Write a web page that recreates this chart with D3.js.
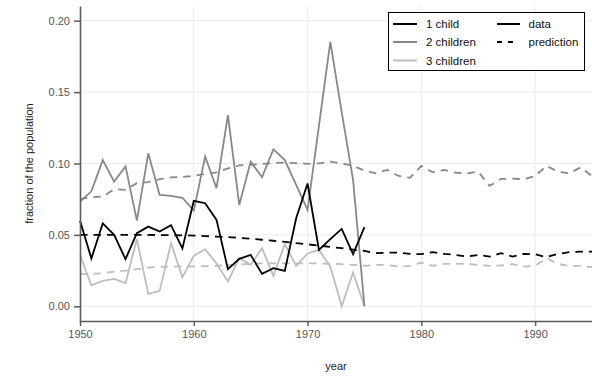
<!DOCTYPE html>
<html>
<head>
<meta charset="utf-8">
<script src="https://cdn.jsdelivr.net/npm/d3@7"></script>
<style>
  body { margin: 0; background: #fff; }
  svg { display: block; font-family: "Liberation Sans", Arial, sans-serif; }
  .grid line { stroke: #ebebeb; stroke-width: 1; }
  .axis path, .axis line { stroke: #5a5a5a; stroke-width: 1.5; }
  .axis text { fill: #555; font-size: 11px; }
</style>
</head>
<body>
<script>
// years
const dataYears = d3.range(1950, 1976);
const predYears = d3.range(1950, 1996);

// observed fractions 1950-1975
const oneChild = [0.0600, 0.0335, 0.0580, 0.0500, 0.0330, 0.0512, 0.0558, 0.0523, 0.0568, 0.0405,
  0.0738, 0.0722, 0.0605, 0.0260, 0.0332, 0.0360, 0.0227, 0.0267, 0.0248, 0.0617,
  0.0860, 0.0395, 0.0470, 0.0542, 0.0365, 0.0554];
const twoChildren = [0.0733, 0.0805, 0.1024, 0.0873, 0.0980, 0.0600, 0.1071, 0.0780, 0.0773, 0.0760,
  0.0670, 0.1048, 0.0827, 0.1339, 0.0710, 0.1013, 0.0905, 0.1100, 0.1024, 0.0850,
  0.0675, 0.1264, 0.1852, 0.1360, 0.0885, 0.0000];
const threeChildren = [0.0360, 0.0146, 0.0178, 0.0192, 0.0162, 0.0470, 0.0087, 0.0108, 0.0442, 0.0204,
  0.0353, 0.0400, 0.0300, 0.0174, 0.0337, 0.0290, 0.0407, 0.0213, 0.0435, 0.0283,
  0.0370, 0.0395, 0.0278, 0.0000, 0.0237, 0.0000];

// predicted fractions 1950-1995
const predOne = [0.0500, 0.0500, 0.0500, 0.0500, 0.0500, 0.0500, 0.0500, 0.0499, 0.0498, 0.0497,
  0.0495, 0.0492, 0.0488, 0.0484, 0.0479, 0.0473, 0.0466, 0.0459, 0.0451, 0.0443,
  0.0434, 0.0425, 0.0416, 0.0407, 0.0397, 0.0388, 0.0372, 0.0376, 0.0376, 0.0367,
  0.0365, 0.0379, 0.0367, 0.0360, 0.0348, 0.0360, 0.0348, 0.0372, 0.0348, 0.0367,
  0.0365, 0.0344, 0.0367, 0.0379, 0.0383, 0.0383];
const predTwo = [0.0750, 0.0764, 0.0768, 0.0820, 0.0815, 0.0862, 0.0870, 0.0890, 0.0903, 0.0906,
  0.0913, 0.0927, 0.0938, 0.0966, 0.0987, 0.0990, 0.0997, 0.1003, 0.1006, 0.1003,
  0.0998, 0.1001, 0.1013, 0.1000, 0.0985, 0.0950, 0.0931, 0.0955, 0.0913, 0.0900,
  0.0983, 0.0938, 0.0955, 0.0936, 0.0931, 0.0943, 0.0843, 0.0892, 0.0894, 0.0890,
  0.0913, 0.0983, 0.0943, 0.0931, 0.0973, 0.0913];
const predThree = [0.0225, 0.0226, 0.0232, 0.0243, 0.0250, 0.0260, 0.0271, 0.0276, 0.0278, 0.0279,
  0.0280, 0.0281, 0.0284, 0.0288, 0.0293, 0.0298, 0.0300, 0.0301, 0.0301, 0.0300,
  0.0300, 0.0300, 0.0298, 0.0295, 0.0290, 0.0283, 0.0290, 0.0290, 0.0278, 0.0283,
  0.0306, 0.0283, 0.0297, 0.0297, 0.0297, 0.0290, 0.0283, 0.0285, 0.0295, 0.0278,
  0.0283, 0.0337, 0.0297, 0.0283, 0.0283, 0.0274];

const groups = ["1 child", "2 children", "3 children"];
const colors = ["#000000", "#888888", "#bdbdbd"];
const yTicks = [0, 0.05, 0.10, 0.15, 0.20];
const xTicks = [1950, 1960, 1970, 1980, 1990];

const W = 592, H = 378;
const mLeft = 80, mRight = 592, mTop = 6, mBottom = 321;

const svg = d3.select("body").append("svg")
    .attr("width", W)
    .attr("height", H);

const x = d3.scaleLinear().domain([1950, 1995]).range([mLeft, mRight]);
const y = d3.scaleLinear().domain([-0.0103, 0.2103]).range([mBottom, mTop]);

// grid
const grid = svg.append("g").attr("class", "grid");
grid.selectAll(".gx").data(xTicks).enter().append("line")
    .attr("x1", d => x(d)).attr("x2", d => x(d))
    .attr("y1", mTop).attr("y2", mBottom);
grid.selectAll(".gy").data(yTicks).enter().append("line")
    .attr("x1", mLeft).attr("x2", mRight)
    .attr("y1", d => y(d)).attr("y2", d => y(d));

// lines
const line = d3.line().x(d => x(d[0])).y(d => y(d[1]));
const observed = [oneChild, twoChildren, threeChildren];
const predicted = [predOne, predTwo, predThree];

const plot = svg.append("g");
predicted.forEach((vals, i) => {
  plot.append("path")
      .datum(predYears.map((yr, j) => [yr, vals[j]]))
      .attr("d", line)
      .attr("fill", "none")
      .attr("stroke", colors[i])
      .attr("stroke-width", 1.8)
      .attr("stroke-dasharray", "7.5,6");
});
// draw observed in reverse so black is on top
[2, 1, 0].forEach(i => {
  plot.append("path")
      .datum(dataYears.map((yr, j) => [yr, observed[i][j]]))
      .attr("d", line)
      .attr("fill", "none")
      .attr("stroke", colors[i])
      .attr("stroke-width", 1.8)
      .attr("stroke-linejoin", "miter");
});

// axes
svg.append("g")
    .attr("class", "axis")
    .attr("transform", `translate(${mLeft},0)`)
    .call(d3.axisLeft(y).tickValues(yTicks).tickFormat(d3.format(".2f"))
        .tickSize(6).tickSizeOuter(0).tickPadding(4));

svg.append("g")
    .attr("class", "axis")
    .attr("transform", `translate(0,${mBottom})`)
    .call(d3.axisBottom(x).tickValues(xTicks).tickFormat(d3.format("d"))
        .tickSize(5).tickSizeOuter(0).tickPadding(4));

// axis titles
svg.append("text")
    .attr("x", (mLeft + mRight) / 2)
    .attr("y", 370)
    .attr("text-anchor", "middle")
    .attr("font-size", 11)
    .attr("fill", "#222")
    .text("year");

svg.append("text")
    .attr("transform", `translate(33,${(mTop + mBottom) / 2}) rotate(-90)`)
    .attr("text-anchor", "middle")
    .attr("font-size", 11)
    .attr("fill", "#222")
    .text("fraction of the population");

// legend
const lg = svg.append("g");
lg.append("rect")
    .attr("x", 388.5).attr("y", 12.5)
    .attr("width", 196).attr("height", 58)
    .attr("fill", "#fff")
    .attr("stroke", "#000")
    .attr("stroke-width", 1);

const rowY = [24, 42, 60.5];
groups.forEach((g, i) => {
  lg.append("line")
      .attr("x1", 393).attr("x2", 417)
      .attr("y1", rowY[i]).attr("y2", rowY[i])
      .attr("stroke", colors[i]).attr("stroke-width", 2);
  lg.append("text")
      .attr("x", 426).attr("y", rowY[i]).attr("dy", "0.35em")
      .attr("font-size", 11.5).attr("fill", "#111")
      .text(g);
});

const styles = [{ name: "data", dash: null, x2: 520 }, { name: "prediction", dash: "5,6", x2: 514 }];
styles.forEach((s, i) => {
  lg.append("line")
      .attr("x1", 497).attr("x2", s.x2)
      .attr("y1", rowY[i]).attr("y2", rowY[i])
      .attr("stroke", "#000").attr("stroke-width", 2)
      .attr("stroke-dasharray", s.dash);
  lg.append("text")
      .attr("x", 528.5).attr("y", rowY[i]).attr("dy", "0.35em")
      .attr("font-size", 11.5).attr("fill", "#111")
      .text(s.name);
});
</script>
</body>
</html>
